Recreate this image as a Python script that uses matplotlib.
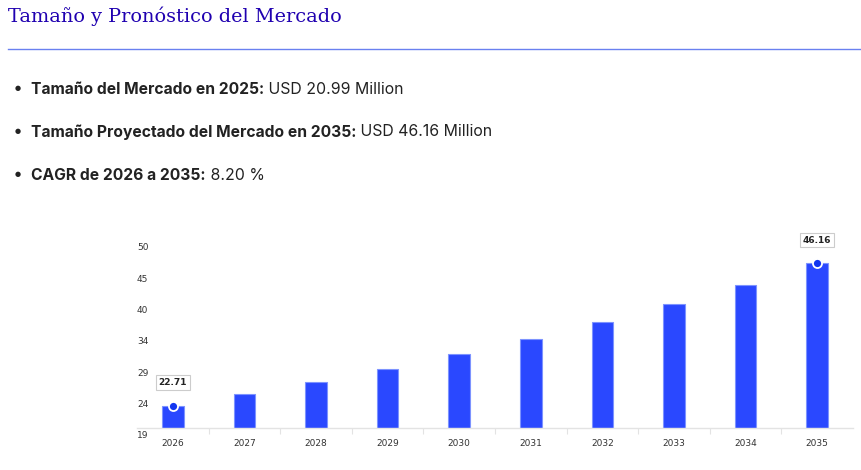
import numpy as np
import matplotlib
matplotlib.use("Agg")
import matplotlib.pyplot as plt
from matplotlib.transforms import ScaledTranslation

# datos del grafico
years = ["2026", "2027", "2028", "2029", "2030", "2031", "2032", "2033", "2034", "2035"]
market_size = [22.71, 24.57, 26.59, 28.77, 31.13, 33.68, 36.44, 39.43, 42.66, 46.16]
y_tick_labels = ["19", "24", "29", "34", "40", "45", "50"]
y_min, y_max = 19, 50
highlight = [0, 9]  # puntos con etiqueta

title = "Tamaño y Pronóstico del Mercado"
bullets = [
    ("Tamaño del Mercado en 2025:", " USD 20.99 Million"),
    ("Tamaño Proyectado del Mercado en 2035:", " USD 46.16 Million"),
    ("CAGR de 2026 a 2035:", " 8.20 %"),
]

BAR_COLOR = "#2a48ff"
W, H = 861, 470

fig = plt.figure(figsize=(W / 100, H / 100), dpi=100)
fig.patch.set_facecolor("white")

### Encabezado
fig.text(8 / W, 1 - 16 / H, title, family="DejaVu Serif", fontsize=13.9,
         color="#1f00b0", va="center", ha="left")
fig.add_artist(plt.Line2D([8 / W, 1], [1 - 49 / H] * 2, color="#6a80f0", lw=1.0))

### Lista de puntos
for i, (bold, regular) in enumerate(bullets):
    yb = 1 - (89 + i * 43) / H
    fig.text(15 / W, yb + 1 / H, "●", fontsize=5, color="#222222", va="center", ha="left",
             family="DejaVu Sans")
    t1 = fig.text(31 / W, yb, bold, fontsize=11.25, fontweight="bold", color="#222222",
                  va="center", ha="left", family="Inter")
    fig.add_artist(plt.Annotation(regular, xy=(1, 0.5), xycoords=t1, va="center",
                                  ha="left", fontsize=11.4, color="#222222", family="Inter"))

### Grafico de barras
ax = fig.add_axes([137 / W, 1 - 428 / H, 716 / W, 188 / H])
x = np.arange(len(years))
ax.bar(x, [v - y_min for v in market_size], bottom=y_min, width=0.3, color=BAR_COLOR,
       edgecolor="#7d93ff", linewidth=0.8, zorder=2)
ax.set_xlim(-0.5, len(years) - 0.5)
ax.set_ylim(y_min, y_max)

for s in ["top", "right", "left"]:
    ax.spines[s].set_visible(False)
ax.spines["bottom"].set_color("#e3e3e3")
ax.spines["bottom"].set_linewidth(1.0)

ax.set_xticks(x)
ax.set_xticklabels(years, fontsize=6.5, color="#333333", family="DejaVu Sans")
ax.tick_params(axis="x", length=0, pad=8)
ax.set_xticks(np.arange(0.5, len(years) - 0.5, 1), minor=True)
ax.tick_params(axis="x", which="minor", length=4, color="#e3e3e3", width=0.8)

ax.set_yticks([])
tick_vals = np.linspace(y_min, y_max, len(y_tick_labels))
off = ScaledTranslation(0, -8 / 100, fig.dpi_scale_trans)
for v, lab in zip(tick_vals, y_tick_labels):
    ax.text(0, v, lab, transform=ax.get_yaxis_transform() + off, fontsize=6.5,
            color="#333333", ha="left", va="center")

for i in highlight:
    ax.plot(x[i], market_size[i], "o", ms=6.5, color="#1236f0", mec="white", mew=1.3,
            zorder=4, clip_on=False)
    ax.annotate(f"{market_size[i]:.2f}", xy=(x[i], market_size[i]), xytext=(0, 23),
                textcoords="offset pixels",
                ha="center", va="center", fontsize=6.5, fontweight="bold", color="#222222",
                bbox=dict(boxstyle="square,pad=0.3", fc="white", ec="#cccccc", lw=0.8),
                zorder=5, annotation_clip=False)

fig.savefig("out.png", dpi=100)
